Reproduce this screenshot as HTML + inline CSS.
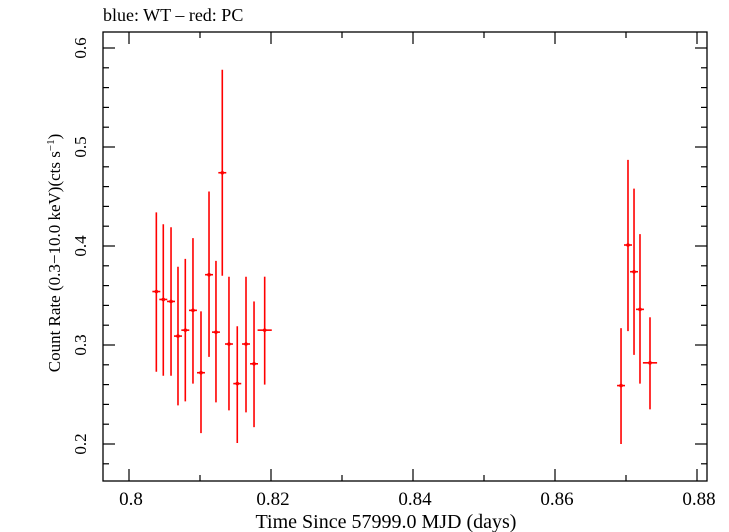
<!DOCTYPE html>
<html><head><meta charset="utf-8"><style>
body{margin:0;background:#fff;}
svg{display:block;font-family:"Liberation Serif",serif;}
</style></head><body>
<svg id="chart" width="729" height="532">
<text x="103" y="21" font-size="18">blue: WT – red: PC</text>
<rect x="103" y="32" width="604" height="449" fill="none" stroke="#000" stroke-width="1.3"/>
<g id="axes"></g>
<g id="marks"></g>
<text x="386" y="528" font-size="20" text-anchor="middle">Time Since 57999.0 MJD (days)</text>
<text transform="translate(60,253) rotate(-90)" font-size="17" text-anchor="middle">Count Rate (0.3−10.0 keV)(cts s<tspan dy="-6" font-size="11">−1</tspan><tspan dy="6">)</tspan></text>
</svg>
<script>
const times=[0.80385,0.80483,0.80592,0.80690,0.80793,0.80901,0.81014,0.81127,0.81225,0.81314,0.81408,0.81525,0.81648,0.81761,0.81911,0.86930,0.87028,0.87113,0.87197,0.87338];
const rates=[0.354,0.346,0.344,0.309,0.315,0.335,0.272,0.371,0.313,0.474,0.301,0.261,0.301,0.281,0.315,0.259,0.401,0.374,0.336,0.282];
const upper=[0.434,0.422,0.419,0.379,0.387,0.408,0.334,0.455,0.385,0.578,0.369,0.319,0.369,0.344,0.369,0.317,0.487,0.458,0.412,0.328];
const lower=[0.273,0.269,0.269,0.239,0.243,0.261,0.211,0.288,0.242,0.370,0.234,0.201,0.232,0.217,0.260,0.200,0.314,0.290,0.261,0.235];
const timeErr=[0.00056,0.00056,0.00056,0.00056,0.00056,0.00056,0.00056,0.00056,0.00056,0.00056,0.00056,0.00056,0.00056,0.00056,0.001,0.00056,0.00056,0.00056,0.00056,0.001];
const xTicks=[0.80,0.82,0.84,0.86,0.88];
const xTickLabels=["0.8","0.82","0.84","0.86","0.88"];
const yTicks=[0.2,0.3,0.4,0.5,0.6];
const yTickLabels=["0.2","0.3","0.4","0.5","0.6"];
const L=103,R=707,T=32,B=481;
const xs=t=>129+(t-0.80)*7100;
const ys=v=>444-(v-0.2)*990;
const NS="http://www.w3.org/2000/svg";
const axes=document.getElementById('axes'),marks=document.getElementById('marks');
function ln(g,x1,y1,x2,y2,c,w){const l=document.createElementNS(NS,'line');l.setAttribute('x1',x1);l.setAttribute('y1',y1);l.setAttribute('x2',x2);l.setAttribute('y2',y2);l.setAttribute('stroke',c);l.setAttribute('stroke-width',w);g.appendChild(l);return l;}
function tx(x,y,s,anchor,name){const t=document.createElementNS(NS,'text');t.setAttribute('x',x);t.setAttribute('y',y);t.setAttribute('font-size','19');t.setAttribute('text-anchor',anchor);t.textContent=s;


axes.appendChild(t);}
for(let k=0;k<=9;k++){const v=0.80+k*0.01-0.01;const x=xs(v);if(x<L||x>R)continue;const major=Math.round(v*100)%2===0;const len=major?12:6;
const a=ln(axes,x,B,x,B-len,'#000',1.2);
const b=ln(axes,x,T,x,T+len,'#000',1.2);}
xTicks.forEach((v,i)=>tx(xs(v)+2,505,xTickLabels[i],'middle','x-tick-label'));
for(let k=0;k<=23;k++){const v=0.16+k*0.02;const y=ys(v);if(y<T||y>B)continue;const major=Math.abs(v*10-Math.round(v*10))<1e-6;const len=major?12:6;
const a=ln(axes,L,y,L+len,y,'#000',1.2);
const b=ln(axes,R,y,R-len,y,'#000',1.2);}
yTicks.forEach((v,i)=>{const t=document.createElementNS(NS,'text');t.setAttribute('transform',`translate(${L-17},${ys(v)}) rotate(-90)`);t.setAttribute('font-size','17');t.setAttribute('text-anchor','middle');t.textContent=yTickLabels[i];


axes.appendChild(t);});
times.forEach((t,i)=>{const g=document.createElementNS(NS,'g');


ln(g,xs(t),ys(upper[i]),xs(t),ys(lower[i]),'#f00',1.6);
ln(g,xs(t-timeErr[i]),ys(rates[i]),xs(t+timeErr[i]),ys(rates[i]),'#f00',1.6);
const c=document.createElementNS(NS,'circle');c.setAttribute('cx',xs(t));c.setAttribute('cy',ys(rates[i]));c.setAttribute('r',1.8);c.setAttribute('fill','#f00');g.appendChild(c);
marks.appendChild(g);});
</script>
</body></html>
